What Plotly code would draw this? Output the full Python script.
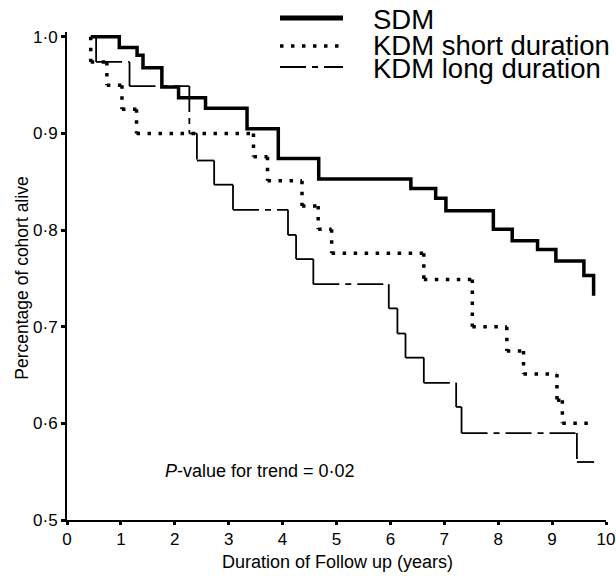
import plotly.graph_objects as go

# ---------------- data ----------------
sdm_years = [0.44, 0.97, 1.30, 1.41, 1.76, 2.07, 2.57, 3.34, 3.92, 4.67, 6.38,
             6.84, 7.03, 7.91, 8.26, 8.73, 9.07, 9.59, 9.77]
sdm_alive = [1.000, 0.989, 0.981, 0.968, 0.948, 0.937, 0.926, 0.905, 0.874, 0.853, 0.843,
             0.833, 0.820, 0.801, 0.789, 0.780, 0.768, 0.753, 0.732]

kdm_short_years = [0.44, 0.44, 0.74, 1.02, 1.29, 3.46, 3.72, 4.36, 4.66, 4.91, 6.62,
                   7.52, 8.16, 8.47, 9.09, 9.19, 9.78]
kdm_short_alive = [1.000, 0.974, 0.950, 0.925, 0.900, 0.876, 0.851, 0.825, 0.801, 0.776, 0.749,
                   0.700, 0.675, 0.651, 0.624, 0.600, 0.600]

kdm_long_years = [0.46, 0.54, 1.16, 2.27, 2.41, 2.73, 3.08, 4.10, 4.25, 4.57, 5.97,
                  6.13, 6.28, 6.62, 7.22, 7.32, 9.46, 9.78]
kdm_long_alive = [1.000, 0.974, 0.949, 0.900, 0.872, 0.847, 0.821, 0.795, 0.770, 0.744, 0.719,
                  0.693, 0.668, 0.642, 0.617, 0.590, 0.560, 0.560]

x_ticks = [0, 1, 2, 3, 4, 5, 6, 7, 8, 9, 10]
x_tick_labels = ["0", "1", "2", "3", "4", "5", "6", "7", "8", "9", "10"]
y_ticks = [0.5, 0.6, 0.7, 0.8, 0.9, 1.0]
y_tick_labels = ["0·5", "0·6", "0·7", "0·8", "0·9", "1·0"]

series_names = ["SDM", "KDM short duration", "KDM long duration"]

FONT = "Liberation Sans, Arial, Helvetica, sans-serif"
DOT = "3.5px,7.5px"
LONGDASH = "26px,6px,6px,6px"


def step_segments(xs, ys):
    """Split a step curve into separate horizontal / vertical pieces so the
    dash pattern restarts on each piece (as in the reference)."""
    sx, sy = [], []
    for i in range(len(xs) - 1):
        if xs[i + 1] != xs[i]:
            sx += [xs[i], xs[i + 1], None]
            sy += [ys[i], ys[i], None]
        if ys[i + 1] != ys[i]:
            sx += [xs[i + 1], xs[i + 1], None]
            sy += [ys[i], ys[i + 1], None]
    return sx, sy


fig = go.Figure()

fig.add_trace(go.Scatter(
    x=sdm_years, y=sdm_alive, mode="lines", line_shape="hv",
    line=dict(color="black", width=3.5), name=series_names[0], showlegend=False))

sx, sy = step_segments(kdm_short_years, kdm_short_alive)
fig.add_trace(go.Scatter(
    x=sx, y=sy, mode="lines", connectgaps=False,
    line=dict(color="black", width=3.5, dash=DOT), name=series_names[1], showlegend=False))

lx, ly = step_segments(kdm_long_years, kdm_long_alive)
fig.add_trace(go.Scatter(
    x=lx, y=ly, mode="lines", connectgaps=False,
    line=dict(color="black", width=1.8, dash=LONGDASH), name=series_names[2], showlegend=False))

# ---------------- layout (pixel positions in the 616x576 page) ----------------
W, H = 616, 576
L, T = 67, 32
R = W - 606
B = H - 520
pw, ph = W - L - R, H - T - B


def px_x(p):  # page pixel -> paper x
    return (p - L) / pw


def px_y(p):  # page pixel -> paper y
    return (H - B - p) / ph


# manual legend
legend_text_rows = [19, 45, 69]
legend_line_rows = [18, 46, 67]
legend_styles = [dict(width=5, dash="solid"), dict(width=3.5, dash=DOT), dict(width=1.8, dash=LONGDASH)]
shapes = []
annotations = []
for name, trow, lrow, st in zip(series_names, legend_text_rows, legend_line_rows, legend_styles):
    shapes.append(dict(type="line", xref="paper", yref="paper",
                       x0=px_x(280), x1=px_x(343), y0=px_y(lrow), y1=px_y(lrow),
                       line=dict(color="black", width=st["width"], dash=st["dash"])))
    annotations.append(dict(xref="paper", yref="paper", x=px_x(371), y=px_y(trow),
                            xanchor="left", yanchor="middle", showarrow=False,
                            text=name, font=dict(family=FONT, size=27.5, color="black")))

annotations.append(dict(xref="paper", yref="paper", x=px_x(259.5), y=px_y(470.5),
                        xanchor="center", yanchor="middle", showarrow=False,
                        text="<i>P</i>-value for trend = 0·02",
                        font=dict(family=FONT, size=18, color="black")))
annotations.append(dict(xref="paper", yref="paper", x=px_x(337), y=px_y(562),
                        xanchor="center", yanchor="middle", showarrow=False,
                        text="Duration of Follow up (years)",
                        font=dict(family=FONT, size=18, color="black")))
annotations.append(dict(xref="paper", yref="paper", x=px_x(21.7), y=px_y(278),
                        xanchor="center", yanchor="middle", showarrow=False, textangle=-90,
                        text="Percentage of cohort alive",
                        font=dict(family=FONT, size=17.5, color="black")))

fig.update_layout(
    width=W, height=H,
    margin=dict(l=L, r=R, t=T, b=B, pad=0),
    paper_bgcolor="white", plot_bgcolor="white",
    showlegend=False,
    shapes=shapes,
    annotations=annotations,
    font=dict(family=FONT, size=16, color="black"),
    xaxis=dict(range=[0, 10], tickmode="array", tickvals=x_ticks, ticktext=x_tick_labels,
               showgrid=False, zeroline=False, showline=True, linecolor="black", linewidth=2,
               ticks="outside", ticklen=3, tickwidth=3, tickcolor="black",
               tickfont=dict(family=FONT, size=17, color="black"), automargin=False),
    yaxis=dict(range=[0.5, 1.005], tickmode="array", tickvals=y_ticks, ticktext=y_tick_labels,
               showgrid=False, zeroline=False, showline=True, linecolor="black", linewidth=2,
               ticks="outside", ticklen=4, tickwidth=3, tickcolor="black",
               tickfont=dict(family=FONT, size=17, color="black"), automargin=False),
)

# remove the page's default 8px body margin so the figure sits at the top-left corner
fig.write_html("out.html",
               config={"displayModeBar": False},
               post_script="document.body.style.margin='0';document.body.style.overflow='hidden';")
